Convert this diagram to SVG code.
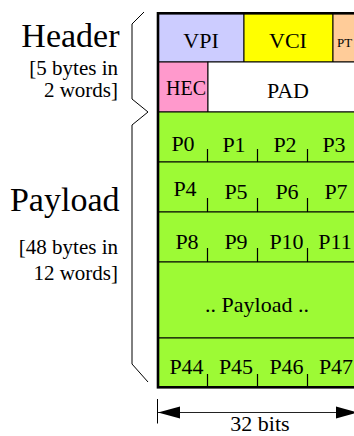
<svg xmlns="http://www.w3.org/2000/svg" width="354" height="436" viewBox="0 0 354 436" font-family="'Liberation Serif', 'Times New Roman', 'DejaVu Serif', serif">
<style>
text{font-family:"Liberation Serif","Times New Roman","DejaVu Serif",serif;fill:#000}
.big{font-size:34px;text-anchor:end}
.sm{font-size:21px;text-anchor:end}
.c{font-size:22px;text-anchor:middle}
.cell{stroke:#000;stroke-width:1}
.g{fill:#9dfa35}
.tick{stroke:#000;stroke-width:1.2}
.br{fill:none;stroke:#000;stroke-width:1}
</style>
<defs>
<marker id="ah" markerUnits="userSpaceOnUse" markerWidth="24" markerHeight="14" refX="22" refY="6.5" orient="auto-start-reverse">
<path d="M0,0.5 L22,6.5 L0,12.5 Z" fill="#000"/>
</marker>
</defs>
<rect width="354" height="436" fill="#fff"/>

<g id="header-label">
<text class="big" x="119.5" y="47">Header</text>
<text class="sm" x="118" y="75">[5 bytes in</text>
<text class="sm" x="118" y="97">2 words]</text>
</g>
<g id="payload-label">
<text class="big" x="119.5" y="211">Payload</text>
<text class="sm" x="118" y="254">[48 bytes in</text>
<text class="sm" x="118" y="280">12 words]</text>
</g>

<g id="vpi"><rect class="cell" x="158" y="13" width="86" height="49" fill="#ccccff"/><text class="c" x="201" y="48">VPI</text></g>
<g id="vci"><rect class="cell" x="244" y="13" width="89" height="49" fill="#ffff00"/><text class="c" x="288" y="48">VCI</text></g>
<g id="pt"><rect class="cell" x="333" y="13" width="30" height="49" fill="#ffcc99"/><text x="337" y="47" style="font-size:13px">PT</text></g>
<g id="hec"><rect class="cell" x="158" y="62" width="50" height="50" fill="#ff99cc"/><text x="186" y="95" style="font-size:20px;text-anchor:middle">HEC</text></g>
<g id="pad"><rect class="cell" x="208" y="62" width="160" height="50" fill="#fff"/><text class="c" x="288" y="98">PAD</text></g>

<g id="row-p0">
<rect class="cell g" x="158" y="112" width="210" height="50"/>
<path class="tick" d="M207.5,149V162M257.5,149V162M307.5,149V162"/>
<text class="c" x="183" y="151">P0</text><text class="c" x="234" y="151.5">P1</text><text class="c" x="285" y="151.5">P2</text><text class="c" x="334" y="151.5">P3</text>
</g>
<g id="row-p4">
<rect class="cell g" x="158" y="162" width="210" height="50"/>
<path class="tick" d="M207.5,198V212M257.5,198V212M307.5,198V212"/>
<text class="c" x="185" y="196">P4</text><text class="c" x="236" y="199">P5</text><text class="c" x="287" y="199">P6</text><text class="c" x="336" y="199">P7</text>
</g>
<g id="row-p8">
<rect class="cell g" x="158" y="212" width="210" height="50"/>
<path class="tick" d="M207.5,248V262M257.5,248V262M307.5,248V262"/>
<text class="c" x="187" y="248.5">P8</text><text class="c" x="236" y="248.5">P9</text><text class="c" x="286.5" y="248.5">P10</text><text class="c" x="335" y="248.5">P11</text>
</g>
<g id="row-payload">
<rect class="cell g" x="158" y="262" width="210" height="76"/>
<text class="c" x="257" y="311.5">.. Payload ..</text>
</g>
<g id="row-p44">
<rect class="cell g" x="158" y="338" width="210" height="49"/>
<path class="tick" d="M207.5,374V387M257.5,374V387M307.5,374V387"/>
<text class="c" x="186.5" y="373.5">P44</text><text class="c" x="236" y="373.5">P45</text><text class="c" x="286.5" y="373.5">P46</text><text class="c" x="336" y="373.5">P47</text>
</g>
<g id="frame"><rect x="158" y="13.3" width="200" height="374" fill="none" stroke="#000" stroke-width="2.6"/></g>

<g id="connectors">
<polyline class="br" points="144,12 132,24 132,99 148,112"/>
<polyline class="br" points="148,112 132,125 132,364 148,382"/>
<line x1="157.5" y1="399" x2="157.5" y2="423.5" stroke="#000" stroke-width="1"/>
<line x1="158" y1="412.5" x2="358" y2="412.5" stroke="#222" stroke-width="1.2" marker-start="url(#ah)" marker-end="url(#ah)"/>
</g>
<g id="dim-label"><text class="c" x="260" y="431">32 bits</text></g>
</svg>
